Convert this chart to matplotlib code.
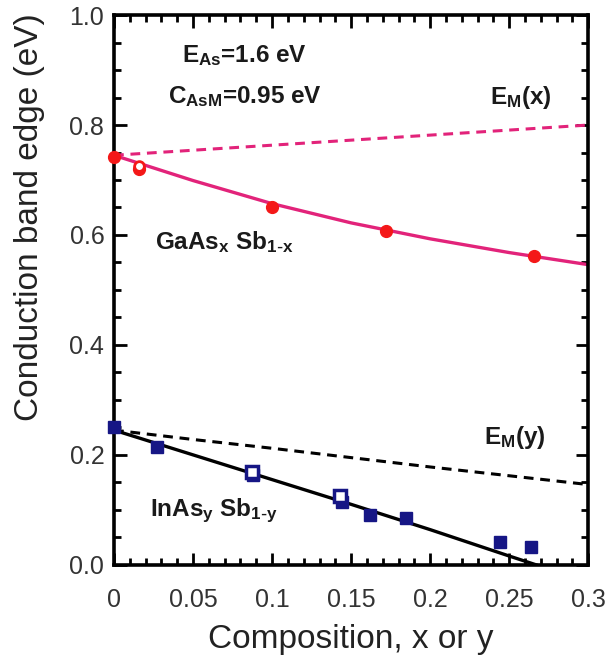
import matplotlib
matplotlib.use("Agg")
import matplotlib.pyplot as plt
from matplotlib.ticker import MultipleLocator, FormatStrFormatter

plt.rcParams['font.family'] = ['Liberation Sans', 'DejaVu Sans']
plt.rcParams['mathtext.default'] = 'regular'

# GaAsSb data (red circles) and curves
gaas_x = [0.0, 0.016, 0.100, 0.172, 0.266]
gaas_y = [0.741, 0.720, 0.651, 0.608, 0.562]
gaas_open_x = [0.016]
gaas_open_y = [0.726]
gaas_fit_x = [0.0, 0.05, 0.10, 0.15, 0.20, 0.25, 0.30]
gaas_fit_y = [0.745, 0.699, 0.657, 0.622, 0.593, 0.568, 0.546]
em_x_x = [0.0, 0.30]
em_x_y = [0.745, 0.800]

# InAsSb data (navy squares) and curves
inas_x = [0.0, 0.027, 0.088, 0.144, 0.162, 0.185, 0.244, 0.264]
inas_y = [0.250, 0.215, 0.163, 0.114, 0.090, 0.085, 0.042, 0.032]
inas_open_x = [0.087, 0.143]
inas_open_y = [0.168, 0.126]
inas_fit_x = [0.0, 0.05, 0.10, 0.15, 0.20, 0.25, 0.267]
inas_fit_y = [0.245, 0.200, 0.155, 0.110, 0.064, 0.016, 0.0]
em_y_x = [0.0, 0.05, 0.10, 0.15, 0.20, 0.25, 0.30]
em_y_y = [0.245, 0.228, 0.212, 0.195, 0.178, 0.162, 0.146]

red_line = '#e2237a'
red_pt = '#f41818'
navy = '#161685'

fig = plt.figure(figsize=(6.08, 6.56), dpi=100)
ax = fig.add_axes([0.1875, 0.139, 0.780, 0.838])

ax.plot(em_x_x, em_x_y, color=red_line, lw=2.2, ls=(0, (3.2, 2.2)))
ax.plot(gaas_fit_x, gaas_fit_y, color=red_line, lw=2.4)
ax.plot(gaas_x, gaas_y, 'o', color=red_pt, ms=8.5, mec=red_pt, clip_on=False, zorder=3)
ax.plot(gaas_open_x, gaas_open_y, 'o', mfc='white', mec=red_pt, mew=2, ms=7, zorder=3)

ax.plot(em_y_x, em_y_y, color='black', lw=2.2, ls=(0, (3.2, 2.2)))
ax.plot(inas_fit_x, inas_fit_y, color='black', lw=2.4)
ax.plot(inas_x, inas_y, 's', color=navy, ms=9, mec=navy, clip_on=False, zorder=3)
ax.plot(inas_open_x, inas_open_y, 's', mfc='white', mec=navy, mew=2.5, ms=8, zorder=3)

ax.set_xlim(0, 0.3)
ax.set_ylim(0, 1.0)
ax.xaxis.set_minor_locator(MultipleLocator(0.01))
ax.yaxis.set_major_locator(MultipleLocator(0.2))
ax.yaxis.set_minor_locator(MultipleLocator(0.05))
ax.yaxis.set_major_formatter(FormatStrFormatter('%.1f'))
ax.set_xticks([0, 0.05, 0.1, 0.15, 0.2, 0.25, 0.3])
ax.set_xticklabels(['0', '0.05', '0.1', '0.15', '0.2', '0.25', '0.3'])

ax.tick_params(which='both', direction='in', top=True, right=True,
               width=2, colors='black', labelcolor='#333333', labelsize=18)
ax.tick_params(which='major', length=9)
ax.tick_params(which='minor', length=5)
ax.tick_params(axis='x', which='major', pad=17)
ax.tick_params(axis='y', which='major', pad=7)
for s in ax.spines.values():
    s.set_linewidth(2.6)

ax.set_xlabel('Composition, x or y', fontsize=24, color='#222222', labelpad=8)
ax.set_ylabel('Conduction band edge (eV)', fontsize=24, color='#222222')
ax.yaxis.set_label_coords(-0.145, 0.632)

kw = dict(fontsize=17.5, fontweight='bold', color='#1a1a1a', va='baseline')
ax.text(0.043, 0.914, r'E$_{As}$=1.6 eV', **kw)
ax.text(0.034, 0.839, r'C$_{AsM}$=0.95 eV', **kw)
ax.text(0.238, 0.839, r'E$_{M}$(x)', **kw)
ax.text(0.026, 0.574, r'GaAs$_{x}$ Sb$_{1\text{-}x}$', **kw)
ax.text(0.234, 0.220, r'E$_{M}$(y)', **kw)
ax.text(0.023, 0.088, r'InAs$_{y}$ Sb$_{1\text{-}y}$', **kw)

fig.savefig('out.png', dpi=100)
